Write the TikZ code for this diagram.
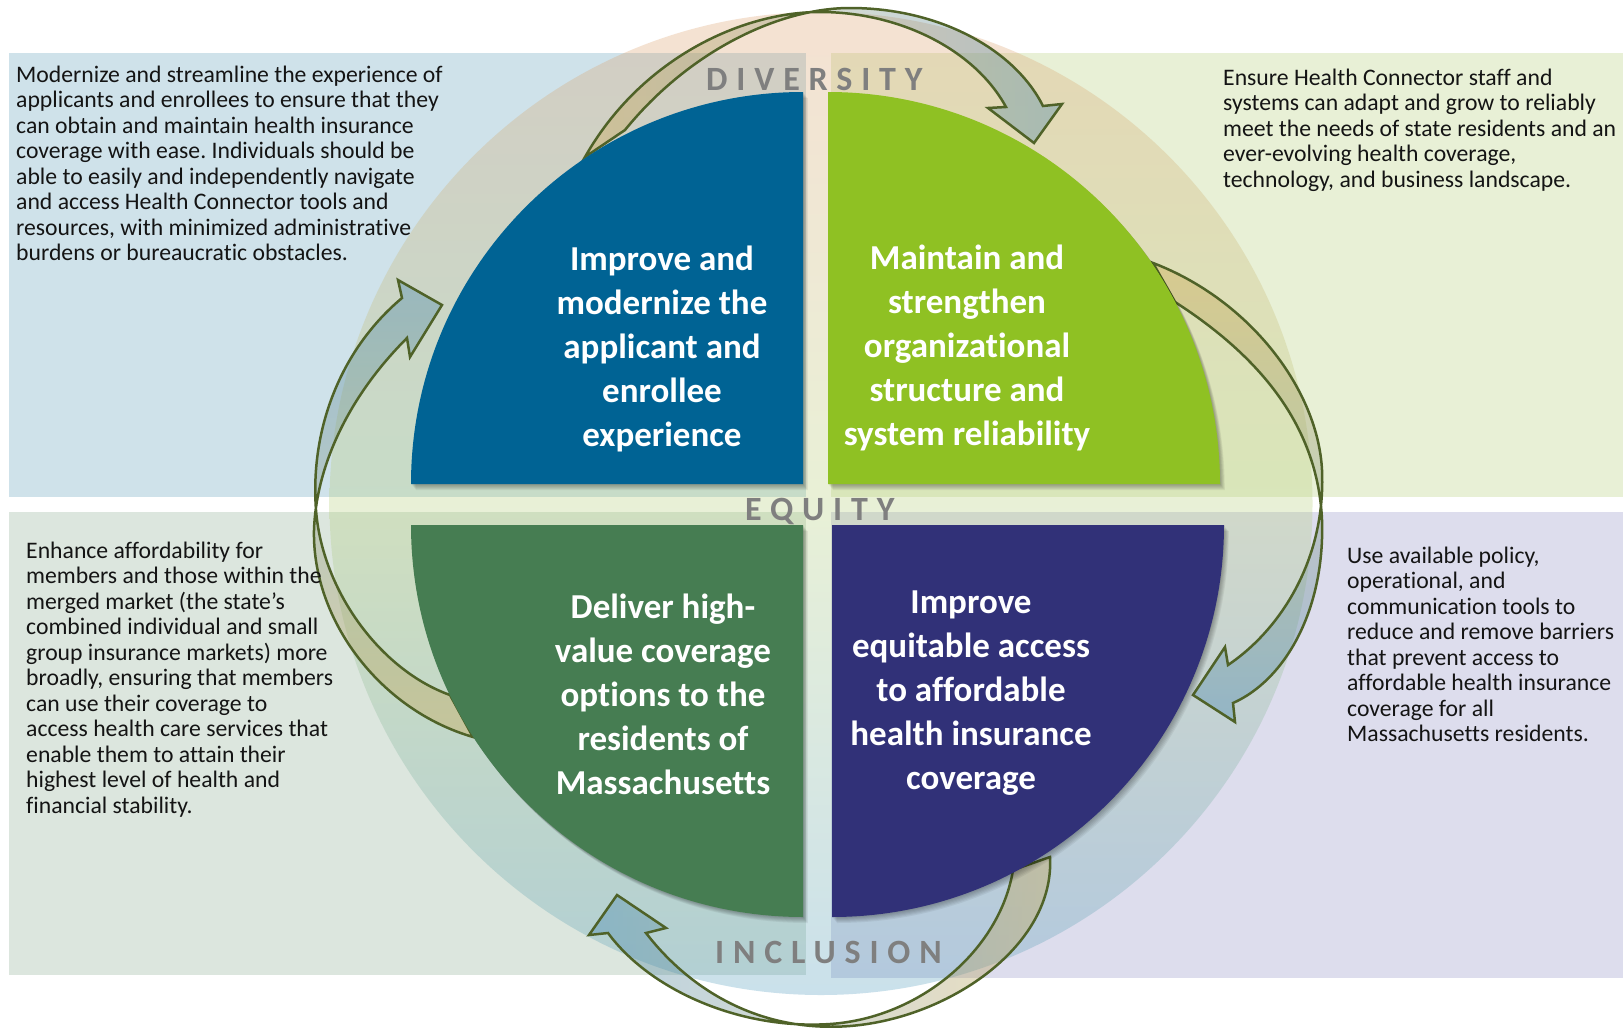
\documentclass[tikz,border=0pt]{standalone}
\usepackage{fontspec}
\setmainfont{Carlito}[Ligatures={NoCommon}]
\newfontfamily\spacedfont[LetterSpace=26,Ligatures={NoCommon}]{Carlito}
\frenchspacing
\definecolor{panelTL}{RGB}{207,226,234}
\definecolor{panelTR}{RGB}{232,240,214}
\definecolor{panelBL}{RGB}{220,230,222}
\definecolor{panelBR}{RGB}{221,221,237}
\definecolor{circTop}{RGB}{222,158,108}
\definecolor{circMid}{RGB}{182,208,122}
\definecolor{circBot}{RGB}{80,155,190}
\definecolor{qBlue}{RGB}{0,99,148}
\definecolor{qLime}{RGB}{143,193,35}
\definecolor{qGreen}{RGB}{70,125,82}
\definecolor{qNavy}{RGB}{49,49,120}
\definecolor{arrowLine}{RGB}{79,98,40}
\definecolor{arrGold}{RGB}{205,165,70}
\definecolor{arrBlue}{RGB}{60,130,175}
\definecolor{labelGray}{RGB}{127,127,127}
\definecolor{bodyText}{RGB}{20,20,20}
\tikzset{
  arrowband/.style={draw=arrowLine, line width=2.5pt, fill opacity=0.35, line join=miter},
  bodytext/.style={anchor=base west, inner sep=0pt, align=left, text=bodyText,
    font=\fontsize{23.7}{25.5}\selectfont},
  quadtext/.style={inner sep=0pt, align=center, text=white,
    font=\fontsize{35}{44}\selectfont\bfseries},
  ringlabel/.style={anchor=base west, inner sep=0pt, text=labelGray,
    font=\spacedfont\bfseries\fontsize{34}{34}\selectfont},
  softshadow/.style={fill=black, opacity=0.055}
}
\def\qTL{(803,484) -- (411,484) arc[start angle=180, end angle=270, radius=392] -- cycle}
\def\qTR{(828,484) -- (1220,484) arc[start angle=0, end angle=-90, radius=392] -- cycle}
\def\qBL{(803,525) -- (411,525) arc[start angle=180, end angle=90, radius=392] -- cycle}
\def\qBR{(832,525) -- (1224,525) arc[start angle=0, end angle=90, radius=392] -- cycle}
\begin{document}
\begin{tikzpicture}[x=1pt,y=-1pt]
\useasboundingbox (0,0) rectangle (1623,1028);
\fill[white] (0,0) rectangle (1623,1028);
% panels
\fill[panelTL] (9,53) rectangle (806,497);
\fill[panelTR] (831,53) rectangle (1623,497);
\fill[panelBL] (9,512) rectangle (806,975);
\fill[panelBR] (831,512) rectangle (1623,978);
% big circle
\shade[top color=circTop, bottom color=circBot, middle color=circMid, fill opacity=0.3]
  (821,503.5) circle (491.5);
% curved arrows
\path[arrowband, left color=arrGold, right color=arrBlue]
  (585,157) .. controls (640,60) and (740,12) .. (820,12)
  .. controls (900,12) and (975,50) .. (1006,107)
  -- (988,108) -- (1034,143) -- (1062,104) -- (1043,106)
  .. controls (1015,50) and (940,8) .. (850,8)
  .. controls (780,8) and (690,50) .. (625,130) -- cycle;
\path[arrowband, top color=arrGold, bottom color=arrBlue]
  (1153,263) .. controls (1250,300) and (1318,390) .. (1322,470)
  .. controls (1326,560) and (1280,630) .. (1228,665)
  -- (1225,647) -- (1193,695) -- (1235,722) -- (1233,703)
  .. controls (1285,680) and (1325,610) .. (1322,520)
  .. controls (1318,430) and (1265,360) .. (1175,302) -- cycle;
\path[arrowband, right color=arrGold, left color=arrBlue]
  (1050,857) .. controls (1055,945) and (950,1018) .. (850,1026)
  .. controls (760,1033) and (690,990) .. (646,933)
  -- (666,928) -- (617,895) -- (589,935) -- (608,933)
  .. controls (650,990) and (740,1030) .. (830,1024)
  .. controls (920,1018) and (1000,950) .. (1013,870) -- cycle;
\path[arrowband, bottom color=arrGold, top color=arrBlue]
  (450,695) .. controls (380,670) and (322,590) .. (316,510)
  .. controls (310,430) and (340,350) .. (402,298)
  -- (398,280) -- (442,305) -- (410,357) -- (407,338)
  .. controls (345,400) and (316,470) .. (314,530)
  .. controls (312,620) and (380,710) .. (473,737) -- cycle;
% quadrant shadows
\foreach \s in {1,...,6}{
  \fill[softshadow, shift={(\s*0.8,\s*1.0)}] \qTL;
  \fill[softshadow, shift={(\s*0.8,\s*1.0)}] \qTR;
  \fill[softshadow, shift={(\s*0.8,\s*1.0)}] \qBL;
  \fill[softshadow, shift={(\s*0.8,\s*1.0)}] \qBR;
}
% quadrants
\fill[qBlue] \qTL;
\fill[qLime] \qTR;
\fill[qGreen] \qBL;
\fill[qNavy] \qBR;
% quadrant texts
\node[quadtext] (goal1) at (662,349) {Improve and\\modernize the\\applicant and\\enrollee\\experience};
\node[quadtext] (goal2) at (967,348) {Maintain and\\strengthen\\organizational\\structure and\\system reliability};
\node[quadtext] (goal3) at (663,694) {Deliver high-\\value coverage\\options to the\\residents of\\Massachusetts};
\node[quadtext] (goal4) at (971,693) {Improve\\equitable access\\to affordable\\health insurance\\coverage};
% ring labels
\node[ringlabel] (diversity) at (706,90) {DIVERSITY};
\node[ringlabel] (equity) at (745,520) {EQUITY};
\node[ringlabel] (inclusion) at (715,963) {INCLUSION};
% panel texts (anchored at the baseline of their last line)
\node[bodytext] (descTL) at (16,260.5) {Modernize and streamline the experience of\\applicants and enrollees to ensure that they\\can obtain and maintain health insurance\\coverage with ease. Individuals should be\\able to easily and independently navigate\\and access Health Connector tools and\\resources, with minimized administrative\\burdens or bureaucratic obstacles.};
\node[bodytext] (descTR) at (1223,187) {Ensure Health Connector staff and\\systems can adapt and grow to reliably\\meet the needs of state residents and an\\ever-evolving health coverage,\\technology, and business landscape.};
\node[bodytext] (descBL) at (26,813) {Enhance affordability for\\members and those within the\\merged market (the state’s\\combined individual and small\\group insurance markets) more\\broadly, ensuring that members\\can use their coverage to\\access health care services that\\enable them to attain their\\highest level of health and\\financial stability.};
\node[bodytext] (descBR) at (1347,741.5) {Use available policy,\\operational, and\\communication tools to\\reduce and remove barriers\\that prevent access to\\affordable health insurance\\coverage for all\\Massachusetts residents.};
\end{tikzpicture}
\end{document}
